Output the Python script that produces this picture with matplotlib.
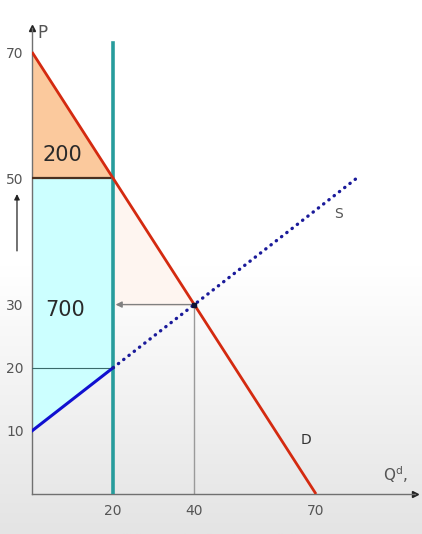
import matplotlib
matplotlib.use("Agg")
import matplotlib.pyplot as plt
import numpy as np

# demand / supply (price ceiling at Q = 20)
demand_q = [0, 70]
demand_p = [70, 0]
supply_solid_q = [0, 20]
supply_solid_p = [10, 20]
supply_dot_q = [20, 80]
supply_dot_p = [20, 50]
quota_q = 20
quota_top = 71.4
eq_q, eq_p = 40, 30
p_high, p_low = 50, 20

orange_q = [0, 0, 20]
orange_p = [50, 70, 50]
cyan_q = [0, 20, 20, 0]
cyan_p = [10, 20, 50, 50]
peach_q = [20, 20, 40]
peach_p = [50, 30, 30]

yticks = [10, 20, 30, 50, 70]
xticks = [20, 40, 70]

fig = plt.figure(figsize=(4.22, 5.34), dpi=100)

# soft background gradient
bg = fig.add_axes([0, 0, 1, 1], zorder=-1)
grad = np.linspace(0, 1, 256).reshape(-1, 1)
bg.imshow(grad, aspect="auto", cmap=matplotlib.colors.LinearSegmentedColormap.from_list(
    "g", ["#ffffff", "#ffffff", "#e4e4e4"]), extent=[0, 1, 0, 1])
bg.axis("off")

ax = fig.add_axes([32 / 422, 40 / 534, 383 / 422, 466 / 534])
ax.patch.set_alpha(0)
ax.set_xlim(0, 383 / 4.057)
ax.set_ylim(0, 466 / 6.314)

ax.fill(orange_q, orange_p, color="#fbc99d", zorder=1)
ax.fill(cyan_q, cyan_p, color="#ccffff", zorder=1)
ax.fill(peach_q, peach_p, color="#fef5f0", zorder=1)

ax.plot([0, quota_q], [p_high, p_high], color="#4a3020", lw=1.6, zorder=3)
ax.plot([0, quota_q], [p_low, p_low], color="#3a6a6a", lw=0.8, zorder=3)
ax.plot([quota_q, quota_q], [0, quota_top], color="#279c9c", lw=2.6, zorder=4)
ax.plot([eq_q, eq_q], [0, eq_p], color="#9a9a9a", lw=1, zorder=2)
ax.annotate("", xy=(quota_q + 0.6, eq_p), xytext=(eq_q, eq_p),
            arrowprops=dict(arrowstyle="-|>", color="#808080", lw=1,
                            mutation_scale=9, shrinkA=0, shrinkB=0), zorder=3)

ax.plot(demand_q, demand_p, color="#d42a10", lw=2, zorder=5, solid_capstyle="butt")
ax.plot(supply_solid_q, supply_solid_p, color="#1010d0", lw=2.2, zorder=5)
ax.plot(supply_dot_q, supply_dot_p, color="#1a1a9a", lw=2.4, ls=(0, (0.1, 1.9)),
        dash_capstyle="round", zorder=5)
ax.plot([eq_q], [eq_p], marker="s", ms=3, color="#111133", zorder=6)

ax.text(7.6, 53.7, "200", fontsize=15, color="#2a2a2a", ha="center", va="center")
ax.text(8.1, 29.1, "700", fontsize=15, color="#2a2a2a", ha="center", va="center")
ax.text(75.5, 44.3, "S", fontsize=10, color="#555555", ha="center", va="center")
ax.text(67.5, 8.5, "D", fontsize=10, color="#333333", ha="center", va="center")
ax.text(2.6, 73.0, "P", fontsize=12, color="#555555", ha="center", va="center",
        clip_on=False)
ax.text(89.5, 1.4, r"Q$^{\mathrm{d}}$,", fontsize=11, color="#555555",
        ha="center", va="bottom", clip_on=False)

# rising price arrow
ax.annotate("", xy=(-3.7, 47.5), xytext=(-3.7, 38.5), xycoords="data",
            arrowprops=dict(arrowstyle="-|>", color="#222222", lw=0.9,
                            mutation_scale=8, shrinkA=0, shrinkB=0),
            annotation_clip=False)

for s in ["top", "right"]:
    ax.spines[s].set_visible(False)
for s in ["left", "bottom"]:
    ax.spines[s].set_color("#707070")
    ax.spines[s].set_linewidth(1)
ax.plot(1, 0, ">", color="#222222", ms=5, transform=ax.transAxes, clip_on=False)
ax.plot(0, 1, "^", color="#222222", ms=4, transform=ax.transAxes, clip_on=False)

ax.set_xticks(xticks)
ax.set_yticks(yticks)
ax.tick_params(length=0, labelsize=10, labelcolor="#555555", pad=6)
ax.tick_params(axis="x", pad=7)

fig.savefig("out.png", dpi=100)
